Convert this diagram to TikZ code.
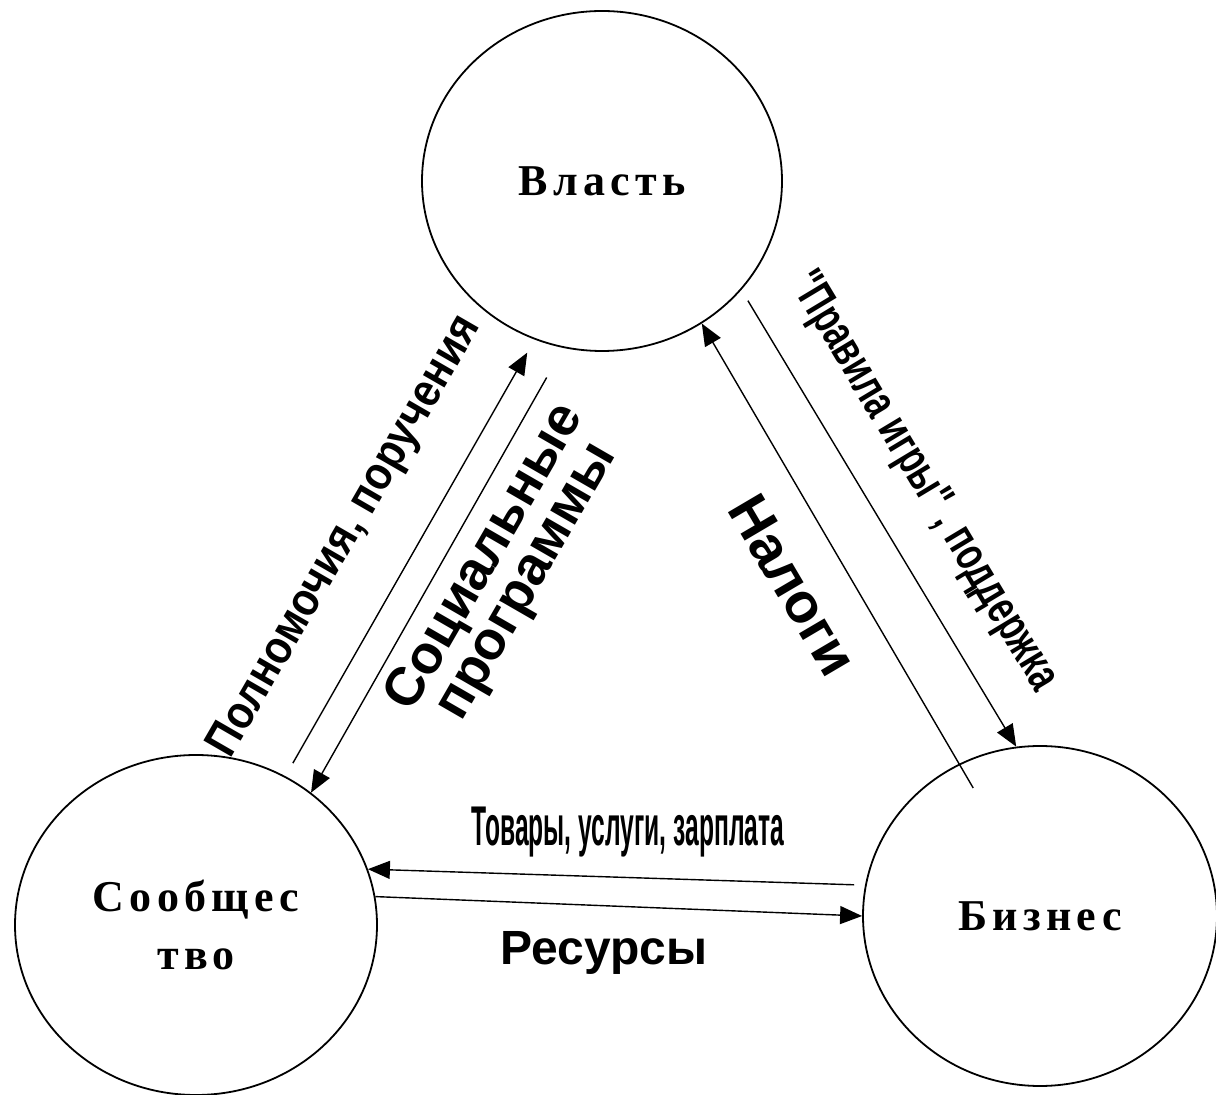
\documentclass[tikz,border=0pt]{standalone}
\usepackage{fontspec}
\setmainfont{Liberation Serif}
\setsansfont{Liberation Sans}
\newfontfamily\namefont{Liberation Serif}[LetterSpace=12]
\usepackage{tikz}
\usetikzlibrary{shapes.geometric, arrows.meta, positioning}

\begin{document}
\begin{tikzpicture}[
        x=0.5pt, y=-0.5pt,
        >={Triangle[length=11pt, width=9pt]},
        party/.style={ellipse, draw, line width=0.9pt, minimum width=180pt, minimum height=170pt, inner sep=0pt, align=center, font=\namefont\bfseries\fontsize{22}{29}\selectfont},
        flow/.style={->, line width=0.7pt},
        lbl/.style={inner sep=0pt, align=center}
    ]
    \useasboundingbox (0,0) rectangle (1216,1095);

    \node[party] (vlast) at (602,181) {Власть};
    \node[party, minimum width=181pt] (soob) at (196,925) {Сообщес\\тво};
    \node[party, minimum width=177pt] (biz) at (1040,916) {Бизнес};

    % Flows between Власть and Сообщество
    \draw[flow, shorten <=7.5pt, shorten >=7.5pt] (soob.59) -- (vlast.-113);
    \draw[flow, shorten <=17pt] (vlast.-103) -- (soob.49);

    % Flows between Власть and Бизнес
    \draw[flow, shorten <=-14pt] (biz.118) -- (vlast.-55);
    \draw[flow, shorten <=6.3pt] (vlast.-38) -- (biz.98);

    % Flows between Сообщество and Бизнес
    \draw[flow, shorten <=5.5pt] (biz.170) -- (soob.18);
    \draw[flow] (soob.9) -- (biz.180);

    % Labels
    \node[lbl, rotate=60, font=\sffamily\bfseries\fontsize{23.5}{26}\selectfont] (powers) at (346,537) {\scalebox{0.88}[1]{Полномочия, поручения}};
    \node[lbl, rotate=60, font=\sffamily\bfseries\fontsize{27}{24}\selectfont] (social) at (507,570) {Социальные\\программы};
    \node[lbl, rotate=-59.5, font=\sffamily\bfseries\fontsize{28}{30}\selectfont] (taxes) at (793,585) {Налоги};
    \node[lbl, rotate=-59, font=\sffamily\bfseries\fontsize{24}{26}\selectfont] (rules) at (923,482) {\scalebox{0.7}[1]{\textquotedbl Правила игры\textquotedbl{} , поддержка}};
    \node[lbl, font=\sffamily\bfseries\fontsize{28}{30}\selectfont] (goods) at (628,832) {\scalebox{0.44}[1]{Товары, услуги, зарплата}};
    \node[lbl, font=\sffamily\bfseries\fontsize{24}{26}\selectfont] (res) at (604,953) {Ресурсы};
\end{tikzpicture}
\end{document}
